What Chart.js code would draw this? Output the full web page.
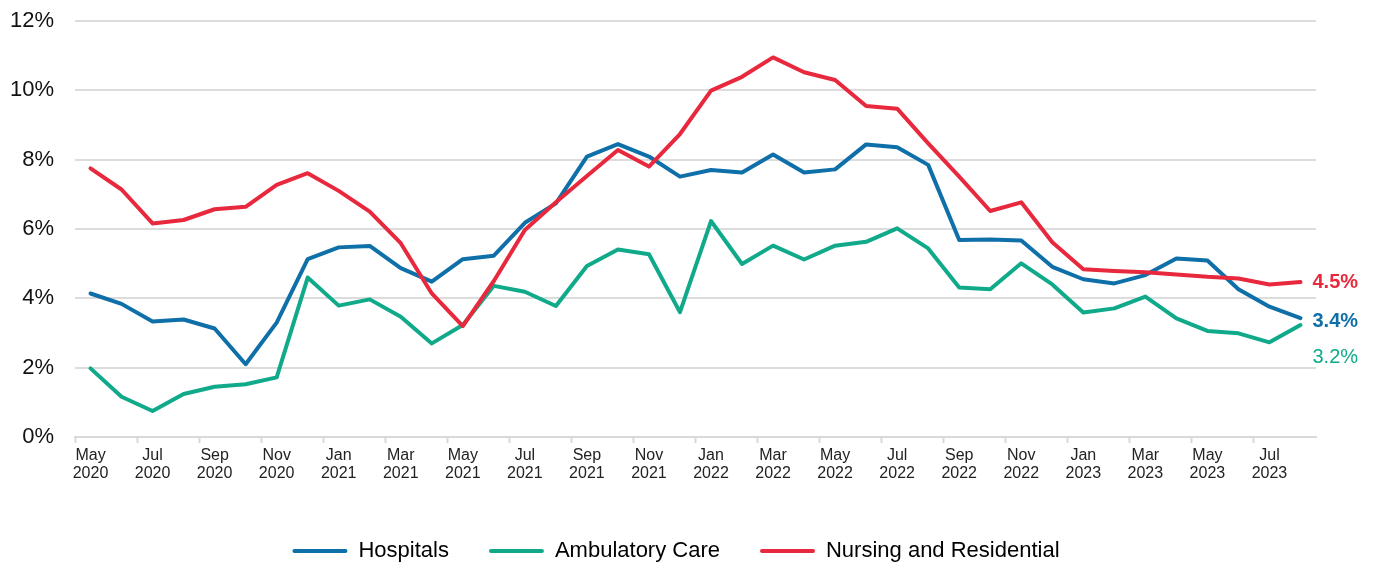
<!DOCTYPE html>
<html>
<head>
<meta charset="utf-8">
<script src="https://cdn.jsdelivr.net/npm/chart.js@4.4.1/dist/chart.umd.min.js"></script>
<style>
  html, body { margin: 0; padding: 0; background: #ffffff; }
  #wrap { width: 1382px; height: 563px; position: relative; }
</style>
</head>
<body>
<div id="wrap"><canvas id="c" width="1382" height="563"></canvas></div>
<script>
const months = ['May 2020','Jun 2020','Jul 2020','Aug 2020','Sep 2020','Oct 2020','Nov 2020','Dec 2020',
  'Jan 2021','Feb 2021','Mar 2021','Apr 2021','May 2021','Jun 2021','Jul 2021','Aug 2021','Sep 2021','Oct 2021','Nov 2021','Dec 2021',
  'Jan 2022','Feb 2022','Mar 2022','Apr 2022','May 2022','Jun 2022','Jul 2022','Aug 2022','Sep 2022','Oct 2022','Nov 2022','Dec 2022',
  'Jan 2023','Feb 2023','Mar 2023','Apr 2023','May 2023','Jun 2023','Jul 2023','Aug 2023'];

const hospitals = [4.14,3.84,3.33,3.39,3.13,2.10,3.30,5.13,5.47,5.51,4.87,4.48,
  5.13,5.23,6.18,6.74,8.09,8.45,8.09,7.51,7.70,7.63,8.15,7.63,7.72,8.44,8.36,7.85,
  5.68,5.70,5.67,4.91,4.55,4.43,4.67,5.15,5.09,4.26,3.76,3.43];

const ambulatory = [1.98,1.16,0.75,1.24,1.45,1.52,1.72,4.60,3.79,3.97,3.47,2.70,
  3.23,4.36,4.19,3.78,4.93,5.41,5.27,3.60,6.23,4.99,5.52,5.12,5.52,5.63,6.02,5.44,
  4.31,4.26,5.01,4.40,3.59,3.71,4.05,3.42,3.06,2.99,2.73,3.23];

const nursing = [7.75,7.14,6.16,6.26,6.57,6.64,7.27,7.61,7.10,6.50,5.59,4.14,
  3.20,4.50,5.97,6.77,7.53,8.28,7.80,8.74,9.99,10.39,10.95,10.52,10.30,9.55,9.47,8.47,
  7.51,6.52,6.77,5.62,4.84,4.79,4.75,4.69,4.62,4.57,4.40,4.47];

const seriesNames = ['Hospitals','Ambulatory Care','Nursing and Residential'];
const yTicks = [0,2,4,6,8,10,12];

const colors = ['#0f6fa8','#10aa8b','#e8283d'];
const FONT = "'Liberation Sans', Arial, sans-serif";

const endLabels = {
  id: 'endLabels',
  afterLayout(chart) {
    if (chart.legend) { chart.legend.left += 18; chart.legend.right += 18; }
  },
  afterDatasetsDraw(chart) {
    const ctx = chart.ctx;
    const conf = [
      {ds: 0, dy: 3, bold: true},
      {ds: 1, dy: 32, bold: false},
      {ds: 2, dy: 0, bold: true}
    ];
    ctx.save();
    conf.forEach(c => {
      const meta = chart.getDatasetMeta(c.ds);
      const pt = meta.data[meta.data.length - 1];
      const vals = chart.data.datasets[c.ds].data;
      const v = vals[vals.length - 1];
      ctx.font = (c.bold ? 'bold ' : '') + '20px ' + FONT;
      ctx.fillStyle = colors[c.ds];
      ctx.textAlign = 'left';
      ctx.textBaseline = 'middle';
      ctx.fillText(v.toFixed(1) + '%', pt.x + 12, pt.y + c.dy);
    });
    ctx.restore();
  }
};

const datasets = [hospitals, ambulatory, nursing].map((d, i) => ({
  label: seriesNames[i],
  data: d,
  borderColor: colors[i],
  backgroundColor: colors[i],
  borderWidth: 4,
  pointRadius: 0,
  tension: 0,
  borderJoinStyle: 'round',
  borderCapStyle: 'round',
  order: 3 - i
}));

new Chart(document.getElementById('c'), {
  type: 'line',
  data: { labels: months, datasets },
  options: {
    responsive: false,
    animation: false,
    layout: { padding: { left: 0, right: 66, top: 21, bottom: 0 } },
    plugins: {
      tooltip: { enabled: false },
      legend: {
        position: 'bottom',
        maxHeight: 63,
        labels: {
          color: '#111',
          font: { family: FONT, size: 22 },
          boxWidth: 55,
          boxHeight: 4,
          padding: 40,
          useBorderRadius: true,
          borderRadius: 2,
          generateLabels(chart) {
            return chart.data.datasets.map((ds, i) => ({
              text: ds.label,
              fillStyle: ds.borderColor,
              strokeStyle: ds.borderColor,
              lineWidth: 0,
              hidden: false,
              datasetIndex: i,
              borderRadius: 2
            }));
          }
        }
      }
    },
    scales: {
      x: {
        offset: true,
        afterFit(scale) { scale.height = 63; },
        grid: {
          offset: true,
          drawOnChartArea: false,
          drawTicks: true,
          tickLength: 6,
          tickWidth: 2,
          tickColor: (ctx) => (ctx.index % 2 === 0 ? '#d9d9d9' : 'rgba(0,0,0,0)')
        },
        border: { display: true, color: '#d9d9d9', width: 2 },
        ticks: {
          autoSkip: false,
          maxRotation: 0,
          minRotation: 0,
          padding: 3,
          color: '#222',
          font: { family: FONT, size: 16, lineHeight: 1.15 },
          callback(val, i) {
            return i % 2 === 0 ? months[i].split(' ') : '';
          }
        }
      },
      y: {
        min: yTicks[0],
        max: yTicks[yTicks.length - 1],
        afterFit(scale) { scale.width = 75; scale.paddingTop = 0; scale.paddingBottom = 0; },
        afterBuildTicks(scale) { scale.ticks = yTicks.map(v => ({ value: v })); },
        grid: { color: '#dcdcdc', lineWidth: 2, drawTicks: false },
        border: { display: false },
        ticks: {
          padding: 21,
          color: '#111',
          font: { family: FONT, size: 22 },
          callback: (v) => v + '%'
        }
      }
    }
  },
  plugins: [endLabels]
});
</script>
</body>
</html>
